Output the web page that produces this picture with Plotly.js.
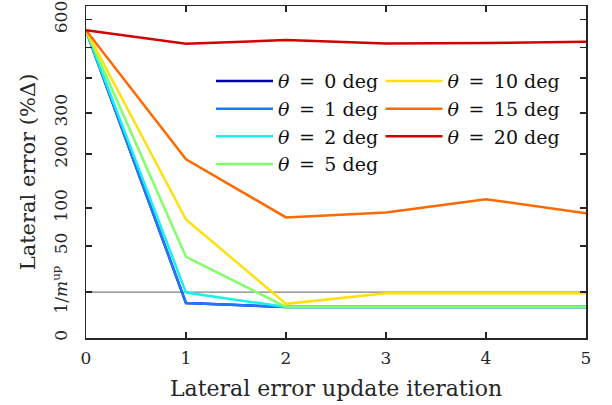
<!DOCTYPE html>
<html>
<head>
<meta charset="utf-8">
<script src="https://cdn.plot.ly/plotly-3.0.1.min.js"></script>
<style>html,body{margin:0;padding:0;background:#fff;}#chart{width:612px;height:405px;}</style>
</head>
<body>
<div id="chart"></div>
<script>
// ---- data ----
const iterations = [0, 1, 2, 3, 4, 5];
const thetaDeg = [0, 1, 2, 5, 10, 15, 20];
const err_theta0  = [560, 7.2, 5.7, 5.7, 5.7, 5.7];
const err_theta1  = [560, 7.2, 5.7, 5.7, 5.7, 5.7];
const err_theta2  = [560, 12.2, 5.7, 5.7, 5.7, 5.7];
const err_theta5  = [560, 39, 5.7, 5.7, 5.7, 5.7];
const err_theta10 = [560, 83, 6.9, 11.8, 11.8, 11.8];
const err_theta15 = [560, 189, 86, 93, 114, 92];
const err_theta20 = [560, 512, 525, 513, 515, 519];
const mUp = 8;                       // 1/m^up reference level = 12.5 %
const refLevel = 100 / mUp;
const yTickValues = [0, refLevel, 50, 100, 200, 300, 400, 500, 600];
const yTickLabels = ['0', '1/<i>m</i><sup>up</sup>', '50', '100', '200', '300', '', '', '600'];
const xTickValues = [0, 1, 2, 3, 4, 5];
const yMax = 652;

// ---- styling ----
const FONT = "'DejaVu Serif', 'Liberation Serif', serif";
const colors = ['#0000b0', '#1f78ff', '#18f0f0', '#80ff6a', '#ffe00a', '#ff6a00', '#d20000'];
const series = [err_theta0, err_theta1, err_theta2, err_theta5, err_theta10, err_theta15, err_theta20];
const scaleY = v => Math.sqrt(v);   // square-root axis

const traces = [{
  x: [iterations[0], iterations[iterations.length - 1]],
  y: [refLevel, refLevel].map(scaleY),
  mode: 'lines', line: {color: '#808080', width: 1.3},
  showlegend: false, hoverinfo: 'skip'
}];
series.forEach((s, i) => {
  traces.push({
    x: iterations,
    y: s.map(scaleY),
    mode: 'lines',
    name: '<i>θ</i>\u2002=\u2002' + thetaDeg[i] + ' deg',
    line: {color: colors[i], width: 2.5},
    legend: i < 4 ? 'legend' : 'legend2'
  });
});

const axisCommon = {
  showline: true, mirror: 'ticks', linecolor: '#262626', linewidth: 1.5,
  ticks: 'inside', ticklen: 6, tickwidth: 1.5, tickcolor: '#262626',
  showgrid: false, zeroline: false,
  tickfont: {size: 17, color: '#262626'}
};
const legendCommon = {
  orientation: 'v', bgcolor: 'rgba(0,0,0,0)', borderwidth: 0,
  font: {size: 19, color: '#111'}, itemwidth: 57,
  xanchor: 'left', yanchor: 'top', tracegroupgap: 0
};

const layout = {
  width: 612, height: 405,
  margin: {l: 86, r: 26, t: 6, b: 67},
  paper_bgcolor: '#fff', plot_bgcolor: '#fff',
  font: {family: FONT, color: '#262626'},
  xaxis: Object.assign({}, axisCommon, {
    range: [0, 5], tickvals: xTickValues, ticklabelstandoff: 4,
    title: {text: 'Lateral error update iteration', font: {size: 22}, standoff: 13}
  }),
  yaxis: Object.assign({}, axisCommon, {
    range: [0, scaleY(yMax)],
    tickvals: yTickValues.map(scaleY), ticktext: yTickLabels, tickangle: -90,
    ticklabelstandoff: 11,
    title: {text: 'Lateral error (%Δ)', font: {size: 21}, standoff: 7}
  }),
  legend: Object.assign({}, legendCommon, {x: 0.25, y: 0.831}),
  legend2: Object.assign({}, legendCommon, {x: 0.589, y: 0.831})
};

Plotly.newPlot('chart', traces, layout, {displayModeBar: false, staticPlot: true});
</script>
</body>
</html>
